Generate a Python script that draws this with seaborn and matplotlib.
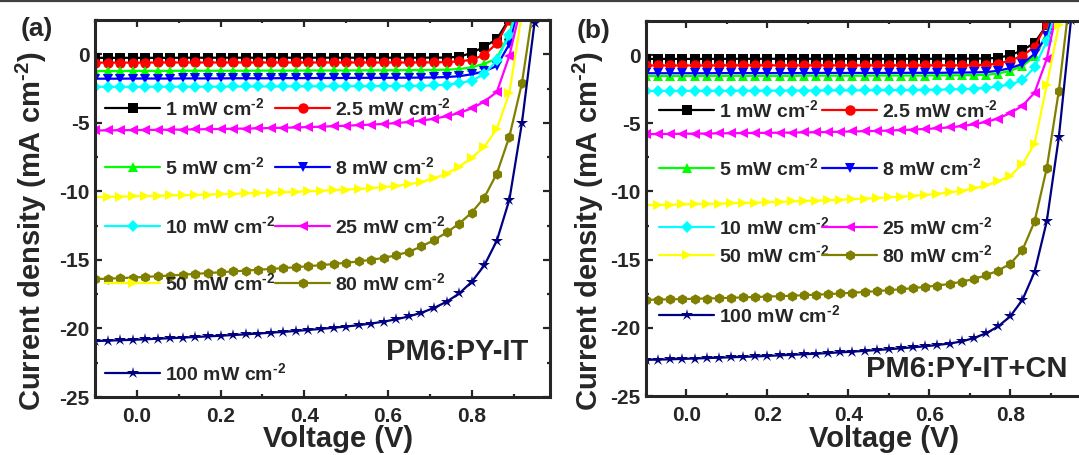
import pandas as pd
import matplotlib
matplotlib.use('Agg')
import matplotlib.pyplot as plt
import seaborn as sns
from matplotlib.lines import Line2D
from matplotlib.ticker import MultipleLocator

# ==========================
# Datos
# ==========================
voltage = [-0.10, -0.07, -0.04, -0.01, 0.02, 0.05, 0.08, 0.11, 0.14, 0.17,
           0.20, 0.23, 0.26, 0.29, 0.32, 0.35, 0.38, 0.41, 0.44, 0.47,
           0.50, 0.53, 0.56, 0.59, 0.62, 0.65, 0.68, 0.71, 0.74, 0.77,
           0.80, 0.83, 0.86, 0.89, 0.92, 0.95, 0.98]

sup = '$^{\u20102}$'
labels = ['1 mW cm' + sup, '2.5 mW cm' + sup, '5 mW cm' + sup, '8 mW cm' + sup,
          '10 mW cm' + sup, '25 mW cm' + sup, '50 mW cm' + sup, '80 mW cm' + sup,
          '100 mW cm' + sup]

# (a) PM6:PY-IT
a_1 = [-0.26, -0.26, -0.26, -0.26, -0.26, -0.26, -0.26, -0.25, -0.25, -0.25,
       -0.25, -0.25, -0.25, -0.25, -0.25, -0.25, -0.25, -0.25, -0.25, -0.25,
       -0.25, -0.25, -0.25, -0.25, -0.25, -0.25, -0.25, -0.24, -0.24, -0.18,
       0.10, 0.55, 1.10, 2.60, 5.00, 8.00, 12.00]
a_2p5 = [-0.61, -0.61, -0.61, -0.61, -0.61, -0.60, -0.60, -0.60, -0.60, -0.60,
         -0.60, -0.60, -0.60, -0.60, -0.60, -0.60, -0.60, -0.60, -0.60, -0.60,
         -0.60, -0.60, -0.60, -0.60, -0.60, -0.60, -0.60, -0.59, -0.57, -0.52,
         -0.40, -0.05, 0.80, 2.50, 5.00, 8.00, 12.00]
a_5 = [-1.22, -1.22, -1.22, -1.21, -1.21, -1.21, -1.21, -1.20, -1.20, -1.20,
       -1.20, -1.20, -1.20, -1.19, -1.19, -1.19, -1.19, -1.18, -1.18, -1.18,
       -1.18, -1.17, -1.17, -1.17, -1.16, -1.16, -1.15, -1.15, -1.12, -1.08,
       -0.95, -0.70, -0.30, 1.50, 5.00, 8.00, 12.00]
a_8 = [-1.78, -1.78, -1.78, -1.77, -1.77, -1.77, -1.77, -1.76, -1.76, -1.76,
       -1.76, -1.75, -1.75, -1.75, -1.75, -1.74, -1.74, -1.74, -1.73, -1.73,
       -1.73, -1.72, -1.72, -1.72, -1.71, -1.71, -1.70, -1.69, -1.66, -1.60,
       -1.46, -1.25, -0.85, 0.75, 4.50, 8.00, 12.00]
a_10 = [-2.37, -2.37, -2.37, -2.37, -2.37, -2.36, -2.36, -2.36, -2.36, -2.36,
        -2.36, -2.35, -2.35, -2.35, -2.35, -2.35, -2.34, -2.34, -2.34, -2.34,
        -2.33, -2.33, -2.33, -2.32, -2.32, -2.31, -2.30, -2.27, -2.21, -2.12,
        -1.92, -1.45, -0.45, 1.40, 4.50, 8.00, 12.00]
a_25 = [-5.56, -5.55, -5.54, -5.53, -5.52, -5.51, -5.50, -5.49, -5.48, -5.46,
        -5.45, -5.43, -5.42, -5.40, -5.38, -5.36, -5.34, -5.31, -5.28, -5.25,
        -5.21, -5.17, -5.13, -5.08, -5.02, -4.94, -4.84, -4.70, -4.52, -4.28,
        -3.95, -3.45, -2.75, -0.10, 3.80, 8.00, 12.00]
a_50 = [-10.42, -10.40, -10.38, -10.36, -10.34, -10.32, -10.30, -10.28, -10.25, -10.23,
        -10.20, -10.18, -10.15, -10.12, -10.09, -10.06, -10.03, -9.99, -9.95, -9.91,
        -9.87, -9.82, -9.76, -9.69, -9.60, -9.48, -9.30, -9.05, -8.70, -8.20,
        -7.55, -6.75, -5.45, -2.80, 3.00, 8.00, 12.00]
a_80 = [-16.40, -16.37, -16.33, -16.29, -16.24, -16.19, -16.14, -16.08, -16.02, -15.96,
        -15.90, -15.84, -15.78, -15.72, -15.66, -15.60, -15.53, -15.46, -15.38, -15.30,
        -15.21, -15.11, -14.99, -14.85, -14.66, -14.40, -14.02, -13.55, -13.00, -12.35,
        -11.55, -10.45, -8.70, -6.00, -2.10, 4.00, 9.00]
a_100 = [-20.92, -20.89, -20.86, -20.83, -20.79, -20.75, -20.71, -20.67, -20.62, -20.58,
         -20.53, -20.48, -20.43, -20.37, -20.31, -20.25, -20.18, -20.11, -20.03, -19.95,
         -19.86, -19.76, -19.64, -19.50, -19.33, -19.12, -18.85, -18.50, -18.05, -17.45,
         -16.60, -15.40, -13.60, -10.60, -5.00, 2.30, 9.00]

# (b) PM6:PY-IT+CN
b_1 = [-0.28, -0.28, -0.28, -0.28, -0.28, -0.28, -0.28, -0.27, -0.27, -0.27,
       -0.27, -0.27, -0.27, -0.27, -0.27, -0.27, -0.27, -0.27, -0.27, -0.27,
       -0.27, -0.27, -0.27, -0.27, -0.27, -0.26, -0.26, -0.26, -0.25, -0.20,
       0.00, 0.35, 0.90, 2.20, 5.00, 8.00, 12.00]
b_2p5 = [-0.76, -0.76, -0.76, -0.76, -0.76, -0.76, -0.75, -0.75, -0.75, -0.75,
         -0.75, -0.75, -0.75, -0.75, -0.75, -0.75, -0.75, -0.75, -0.75, -0.75,
         -0.75, -0.75, -0.75, -0.75, -0.75, -0.75, -0.75, -0.74, -0.72, -0.62,
         -0.40, -0.05, 0.60, 2.30, 5.00, 8.00, 12.00]
b_5 = [-1.53, -1.53, -1.53, -1.53, -1.53, -1.52, -1.52, -1.52, -1.52, -1.52,
       -1.52, -1.52, -1.52, -1.51, -1.51, -1.51, -1.51, -1.51, -1.51, -1.50,
       -1.50, -1.50, -1.50, -1.50, -1.49, -1.49, -1.48, -1.47, -1.45, -1.35,
       -1.15, -0.80, -0.10, 1.50, 4.50, 8.00, 12.00]
b_8 = [-1.33, -1.33, -1.33, -1.33, -1.33, -1.33, -1.32, -1.32, -1.32, -1.32,
       -1.32, -1.32, -1.32, -1.32, -1.31, -1.31, -1.31, -1.31, -1.31, -1.31,
       -1.31, -1.30, -1.30, -1.30, -1.30, -1.29, -1.28, -1.27, -1.25, -1.15,
       -0.95, -0.65, 0.10, 1.40, 4.50, 8.00, 12.00]
b_10 = [-2.63, -2.63, -2.63, -2.62, -2.62, -2.62, -2.62, -2.61, -2.61, -2.61,
        -2.61, -2.60, -2.60, -2.60, -2.60, -2.59, -2.59, -2.59, -2.58, -2.58,
        -2.57, -2.57, -2.56, -2.55, -2.54, -2.52, -2.50, -2.46, -2.40, -2.30,
        -2.15, -1.85, -0.90, 1.00, 4.00, 8.00, 12.00]
b_25 = [-5.80, -5.79, -5.78, -5.77, -5.76, -5.75, -5.74, -5.73, -5.72, -5.71,
        -5.70, -5.69, -5.68, -5.67, -5.66, -5.64, -5.62, -5.60, -5.58, -5.56,
        -5.53, -5.50, -5.46, -5.42, -5.37, -5.30, -5.21, -5.08, -4.90, -4.65,
        -4.25, -3.72, -2.75, -0.30, 4.00, 8.00, 12.00]
b_50 = [-11.00, -10.99, -10.97, -10.95, -10.93, -10.91, -10.89, -10.86, -10.84, -10.82,
        -10.79, -10.76, -10.73, -10.70, -10.67, -10.64, -10.60, -10.56, -10.52, -10.48,
        -10.43, -10.38, -10.32, -10.25, -10.17, -10.07, -9.95, -9.78, -9.55, -9.25,
        -8.85, -8.00, -6.50, -2.20, 2.20, 7.00, 12.00]
b_80 = [-17.95, -17.93, -17.91, -17.89, -17.87, -17.85, -17.83, -17.80, -17.77, -17.74,
        -17.71, -17.68, -17.65, -17.61, -17.57, -17.53, -17.48, -17.43, -17.37, -17.31,
        -17.24, -17.17, -17.09, -17.00, -16.90, -16.78, -16.62, -16.42, -16.15, -15.80,
        -15.30, -14.30, -12.20, -8.30, -2.60, 5.00, 10.00]
b_100 = [-22.35, -22.33, -22.31, -22.28, -22.25, -22.22, -22.19, -22.16, -22.13, -22.10,
         -22.06, -22.02, -21.98, -21.94, -21.90, -21.85, -21.80, -21.75, -21.69, -21.63,
         -21.57, -21.50, -21.43, -21.35, -21.26, -21.15, -21.00, -20.75, -20.40, -19.90,
         -19.15, -17.95, -15.90, -12.20, -6.00, 2.60, 10.00]

# ==========================
# Estilo
# ==========================
colores = ['#000000', '#ff0000', '#00ff00', '#0000ff', '#00ffff',
           '#ff00ff', '#ffff00', '#808000', '#000080']
marcadores = ['s', 'o', '^', 'v', 'D', '<', '>', 'h', '*']
tam_marcador = [6.5, 7.5, 7.5, 7.5, 6.0, 7.5, 7.5, 7.5, 9.0]

sns.set_style('ticks')
plt.rcParams['font.family'] = ['Liberation Sans', 'DejaVu Sans']
plt.rcParams['font.weight'] = 'bold'
plt.rcParams['axes.unicode_minus'] = False
plt.rcParams['mathtext.fontset'] = 'custom'
plt.rcParams['mathtext.rm'] = 'Liberation Sans:bold'
plt.rcParams['mathtext.it'] = 'Liberation Sans:bold'
plt.rcParams['mathtext.bf'] = 'Liberation Sans:bold'
plt.rcParams['mathtext.default'] = 'rm'

W, H = 1079, 455
fig = plt.figure(figsize=(W / 100, H / 100), dpi=100)

# posiciones en pixeles: izquierda, arriba, derecha, abajo
paneles = [
    dict(series=[a_1, a_2p5, a_5, a_8, a_10, a_25, a_50, a_80, a_100],
         caja=(95, 20, 550, 397),
         leyenda=[(105, 108), (275, 108), (105, 167), (275, 167), (105, 226),
                  (275, 226), (105, 283), (275, 283), (105, 373)],
         letra='(a)', letra_xy=(37, 36),
         nombre='PM6:PY-IT', nombre_xy=(528, 360),
         ylab_xy=(31, 231), xlab_xy=(338, 447)),
    dict(series=[b_1, b_2p5, b_5, b_8, b_10, b_25, b_50, b_80, b_100],
         caja=(646, 21, 1086, 396),
         leyenda=[(659, 110), (822, 110), (659, 168), (822, 168), (659, 227),
                  (822, 227), (659, 255), (822, 255), (659, 315)],
         letra='(b)', letra_xy=(594, 38),
         nombre='PM6:PY-IT+CN', nombre_xy=(1067, 377),
         ylab_xy=(588, 231), xlab_xy=(884, 447)),
]

for p in paneles:
    izq, arr, der, aba = p['caja']
    ax = fig.add_axes([izq / W, 1 - aba / H, (der - izq) / W, (aba - arr) / H])

    df = pd.concat([
        pd.DataFrame({'voltage': voltage, 'current': j, 'label': lab})
        for j, lab in zip(p['series'], labels)
    ])

    sns.lineplot(
        data=df, x='voltage', y='current',
        hue='label', style='label',
        hue_order=labels, style_order=labels,
        palette=dict(zip(labels, colores)),
        markers=dict(zip(labels, marcadores)),
        dashes=False, sort=False, estimator=None,
        linewidth=1.6, markersize=7, markeredgewidth=0,
        legend=False, ax=ax
    )
    for linea, ms in zip(ax.lines, tam_marcador):
        linea.set_markersize(ms)

    ax.set_xlim(-0.1, 0.987)
    ax.set_ylim(-25, 2.5)
    ax.xaxis.set_major_locator(MultipleLocator(0.2))
    ax.xaxis.set_minor_locator(MultipleLocator(0.1))
    ax.yaxis.set_major_locator(MultipleLocator(5))
    ax.yaxis.set_minor_locator(MultipleLocator(2.5))
    ax.tick_params(which='both', direction='in', top=True, right=True,
                   width=1.6, labelsize=15)
    ax.tick_params(which='major', length=5)
    ax.tick_params(which='minor', length=2.5)
    ax.tick_params(axis='x', pad=7)
    ax.tick_params(axis='y', pad=4)
    ax.set_xlabel('')
    ax.set_ylabel('')
    for s in ax.spines.values():
        s.set_linewidth(2.2)

    # leyenda: una entrada por posición
    for linea, lab, (lx, ly) in zip(ax.lines, labels, p['leyenda']):
        fig.legend([linea], [lab], loc='center left',
                   bbox_to_anchor=(lx / W, 1 - ly / H),
                   frameon=False, borderpad=0, borderaxespad=0,
                   handlelength=2.85, handletextpad=0.25,
                   prop={'size': 14, 'weight': 'bold'})

    fig.text(p['letra_xy'][0] / W, 1 - p['letra_xy'][1] / H, p['letra'],
             fontsize=19, ha='center', va='baseline')
    fig.text(p['nombre_xy'][0] / W, 1 - p['nombre_xy'][1] / H, p['nombre'],
             fontsize=21, ha='right', va='baseline')
    fig.text(p['ylab_xy'][0] / W, 1 - p['ylab_xy'][1] / H,
             'Current density (mA cm' + sup + ')',
             fontsize=21, rotation=90, ha='center', va='center')
    fig.text(p['xlab_xy'][0] / W, 1 - p['xlab_xy'][1] / H, 'Voltage (V)',
             fontsize=21, ha='center', va='baseline')

# línea superior del borde
fig.add_artist(Line2D([0, 1], [1 - 1.2 / H, 1 - 1.2 / H], color='#404040', lw=1.6))

fig.savefig('out.png', dpi=100)
